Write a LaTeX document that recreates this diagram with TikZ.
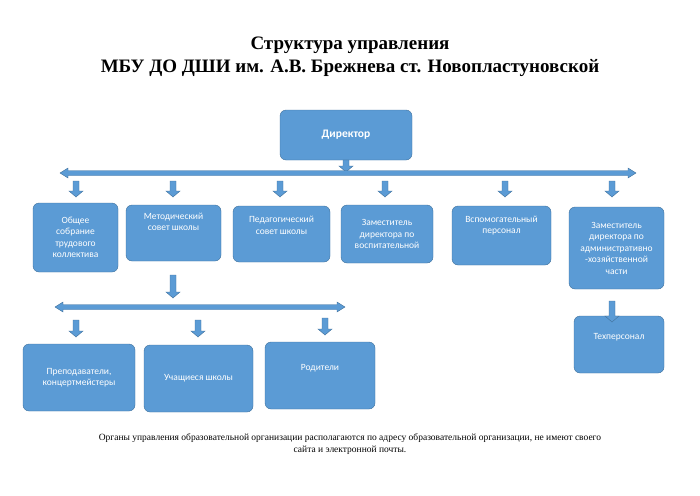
\documentclass[tikz,border=0pt]{standalone}
\usepackage{fontspec}
\setmainfont{Liberation Serif}
\newfontfamily\boxfont{Carlito}
\usetikzlibrary{positioning}
\definecolor{boxfill}{HTML}{5B9BD5}
\definecolor{boxline}{HTML}{41719C}
\tikzset{
  unit/.style={rounded corners=6pt, draw=boxline, fill=boxfill, text=white, align=center, font={\boxfont\fontsize{9.5}{11.5}\selectfont}, inner sep=2pt},
  blockarrow/.style={fill=boxfill, draw=boxline, line width=0.4pt}
}
% block arrow pointing down: x, top y, bottom y
\newcommand{\blockdown}[3]{%
  \fill[blockarrow] (#1-3,#2) -- (#1+3,#2) -- (#1+3,#3-6) -- (#1+7,#3-6) -- (#1,#3) -- (#1-7,#3-6) -- (#1-3,#3-6) -- cycle;}
% horizontal double block arrow: left x, right x, y
\newcommand{\blockbar}[3]{%
  \fill[blockarrow] (#1,#3) -- (#1+8,#3-5) -- (#1+8,#3-2.5) -- (#2-8,#3-2.5) -- (#2-8,#3-5) -- (#2,#3) -- (#2-8,#3+5) -- (#2-8,#3+2.5) -- (#1+8,#3+2.5) -- (#1+8,#3+5) -- cycle;}
\begin{document}
\begin{tikzpicture}[x=1pt,y=-1pt]
  \useasboundingbox (0,0) rectangle (700,495);

  \node[font=\bfseries\fontsize{19}{23}\selectfont, align=center] (title) at (350,57) {Структура управления\\МБУ ДО ДШИ им. А.В. Брежнева ст. Новопластуновской};

  \node[unit, minimum width=132pt, minimum height=50pt, font={\boxfont\bfseries\fontsize{11.5}{13}\selectfont}] (dir) at (346,135) {Директор};

  \node[unit, minimum width=85pt, minimum height=69pt] (obsh) at (75.5,237.5) {Общее\\собрание\\трудового\\коллектива};
  \node[unit, minimum width=95pt, minimum height=56pt] (metod) at (173.5,233) {Методический\\совет школы\\[1.2em]};
  \node[unit, minimum width=97pt, minimum height=56pt] (ped) at (281.5,234) {Педагогический\\совет школы\\[0.6em]};
  \node[unit, minimum width=92pt, minimum height=58pt] (zamvos) at (387,234) {Заместитель\\директора по\\воспитательной};
  \node[unit, minimum width=99pt, minimum height=59pt] (vspom) at (501.5,235.5) {Вспомогательный\\персонал\\[1em]};
  \node[unit, minimum width=95pt, minimum height=82pt] (zamahch) at (616.5,248) {Заместитель\\директора по\\административно\\-хозяйственной\\части};

  \node[unit, minimum width=112pt, minimum height=67pt] (prep) at (79,377.5) {Преподаватели,\\концертмейстеры};
  \node[unit, minimum width=109pt, minimum height=67pt] (uch) at (198.5,378.5) {Учащиеся школы};
  \node[unit, minimum width=110pt, minimum height=67pt] (rod) at (320,375.5) {Родители\\[0.4em]};
  \node[unit, minimum width=90pt, minimum height=57pt] (tex) at (619,344.5) {Техперсонал\\[0.4em]};

  \node[font=\fontsize{9.5}{12}\selectfont, align=center] (note) at (350,444) {Органы управления образовательной организации располагаются по адресу образовательной организации, не имеют своего\\сайта и электронной почты.};

  % arrows
  \blockdown{346}{160}{172}
  \blockbar{60}{636}{173}
  \foreach \x in {76,173,280,385,505,612} {\blockdown{\x}{181}{197}}
  \blockdown{173}{275}{298}
  \blockbar{55}{345}{307}
  \foreach \x/\a in {76/320,198/320,325/318} {\blockdown{\x}{\a}{\a+17}}
  \blockdown{612}{301}{322}
\end{tikzpicture}
\end{document}
